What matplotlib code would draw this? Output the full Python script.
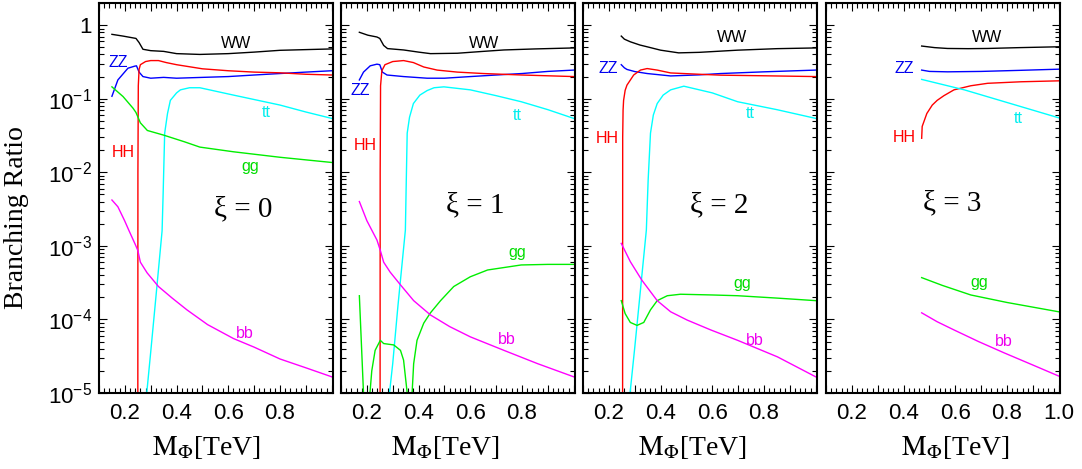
import matplotlib
matplotlib.use("Agg")
import matplotlib.pyplot as plt
from matplotlib.ticker import MultipleLocator, LogLocator, FuncFormatter, FixedLocator, FixedFormatter, NullFormatter

plt.rcParams['font.family'] = ['Liberation Sans', 'DejaVu Sans']
plt.rcParams['mathtext.fontset'] = 'stix'

# ---------------- data ----------------
xi_values = [0, 1, 2, 3]
channels = ['WW', 'ZZ', 'HH', 'tt', 'gg', 'bb']

# xi = 0
ww0_m = [0.15, 0.193, 0.243, 0.255, 0.27, 0.30, 0.35, 0.40, 0.49, 0.60, 0.70, 0.80, 0.90, 1.00]
ww0 = [0.75, 0.71, 0.66, 0.58, 0.47, 0.45, 0.44, 0.41, 0.40, 0.41, 0.43, 0.455, 0.465, 0.475]
zz0_m = [0.15, 0.173, 0.212, 0.238, 0.245, 0.255, 0.27, 0.30, 0.35, 0.40, 0.50, 0.60, 0.70, 0.80, 0.90, 1.00]
zz0 = [0.108, 0.18, 0.26, 0.277, 0.28, 0.23, 0.20, 0.19, 0.195, 0.19, 0.195, 0.20, 0.21, 0.22, 0.23, 0.24]
hh0_m = [0.2500, 0.2505, 0.252, 0.255, 0.26, 0.28, 0.30, 0.33, 0.36, 0.40, 0.50, 0.60, 0.70, 0.80, 0.90, 1.00]
hh0 = [1e-7, 0.01, 0.15, 0.25, 0.29, 0.32, 0.33, 0.33, 0.31, 0.29, 0.255, 0.24, 0.23, 0.225, 0.215, 0.21]
tt0_m = [0.282, 0.30, 0.32, 0.344, 0.348, 0.354, 0.365, 0.376, 0.40, 0.415, 0.45, 0.49, 0.62, 0.80, 0.90, 1.00]
tt0 = [8e-6, 3.6e-5, 2.0e-4, 1.6e-3, 5e-3, 0.034, 0.063, 0.095, 0.12, 0.132, 0.141, 0.141, 0.112, 0.082, 0.066, 0.054]
gg0_m = [0.15, 0.193, 0.232, 0.243, 0.26, 0.287, 0.35, 0.43, 0.49, 0.62, 0.80, 1.00]
gg0 = [0.145, 0.107, 0.074, 0.065, 0.047, 0.037, 0.032, 0.026, 0.022, 0.019, 0.016, 0.0136]
bb0_m = [0.15, 0.173, 0.199, 0.215, 0.24, 0.25, 0.26, 0.286, 0.33, 0.383, 0.44, 0.52, 0.62, 0.70, 0.80, 0.90, 1.00]
bb0 = [4.2e-3, 3.4e-3, 2.2e-3, 1.64e-3, 1.05e-3, 8.7e-4, 6e-4, 4.3e-4, 2.8e-4, 1.95e-4, 1.35e-4, 8.5e-5,
       5.5e-5, 4.2e-5, 2.9e-5, 2.2e-5, 1.66e-5]

# xi = 1
ww1_m = [0.171, 0.204, 0.239, 0.25, 0.265, 0.28, 0.342, 0.40, 0.446, 0.55, 0.65, 0.73, 0.85, 1.00]
ww1 = [0.80, 0.73, 0.69, 0.66, 0.53, 0.48, 0.46, 0.43, 0.41, 0.415, 0.44, 0.46, 0.475, 0.49]
zz1_m = [0.171, 0.187, 0.213, 0.239, 0.25, 0.26, 0.278, 0.342, 0.433, 0.50, 0.60, 0.70, 0.80, 0.90, 1.00]
zz1 = [0.18, 0.23, 0.28, 0.295, 0.29, 0.23, 0.21, 0.20, 0.19, 0.19, 0.20, 0.21, 0.22, 0.235, 0.245]
hh1_m = [0.251, 0.2515, 0.253, 0.258, 0.27, 0.30, 0.342, 0.38, 0.42, 0.472, 0.55, 0.65, 0.80, 1.00]
hh1 = [1e-7, 0.01, 0.15, 0.24, 0.29, 0.32, 0.33, 0.31, 0.27, 0.245, 0.23, 0.22, 0.21, 0.20]
tt1_m = [0.286, 0.30, 0.32, 0.349, 0.352, 0.356, 0.365, 0.38, 0.405, 0.433, 0.46, 0.498, 0.60, 0.70, 0.797, 0.90, 1.00]
tt1 = [8.9e-6, 2.5e-5, 1.5e-4, 1.64e-3, 6.3e-3, 0.034, 0.056, 0.086, 0.112, 0.129, 0.141, 0.145, 0.132, 0.11, 0.091, 0.071, 0.054]
gg1_m = [0.171, 0.187, 0.188, 0.211, 0.212, 0.219, 0.232, 0.252, 0.265, 0.304, 0.330, 0.342, 0.356, 0.357,
         0.374, 0.375, 0.381, 0.394, 0.420, 0.446, 0.485, 0.536, 0.600, 0.667, 0.797, 0.900, 1.000]
gg1 = [2.1e-4, 1e-5, 1e-7, 1e-7, 1e-5, 2.0e-5, 3.8e-5, 5.2e-5, 4.7e-5, 4.5e-5, 3.8e-5, 2.8e-5, 1e-5, 1e-7,
       1e-7, 1e-5, 2.5e-5, 5.2e-5, 8.9e-5, 1.23e-4, 1.8e-4, 2.8e-4, 3.8e-4, 4.7e-4, 5.5e-4, 5.6e-4, 5.6e-4]
bb1_m = [0.171, 0.20, 0.239, 0.252, 0.265, 0.29, 0.33, 0.381, 0.446, 0.52, 0.60, 0.73, 0.861, 1.00]
bb1 = [4.0e-3, 2.2e-3, 1.2e-3, 8.7e-4, 6.0e-4, 4.4e-4, 2.95e-4, 1.8e-4, 1.15e-4, 8.0e-5, 5.8e-5, 3.8e-5, 2.5e-5, 1.66e-5]

# xi = 2
ww2_m = [0.248, 0.26, 0.283, 0.32, 0.348, 0.40, 0.47, 0.55, 0.698, 0.85, 1.00]
ww2 = [0.71, 0.645, 0.594, 0.537, 0.508, 0.457, 0.42, 0.427, 0.457, 0.479, 0.49]
zz2_m = [0.248, 0.26, 0.27, 0.30, 0.348, 0.439, 0.55, 0.633, 0.80, 1.00]
zz2 = [0.29, 0.263, 0.25, 0.234, 0.22, 0.204, 0.211, 0.22, 0.232, 0.245]
hh2_m = [0.253, 0.2535, 0.255, 0.257, 0.263, 0.270, 0.296, 0.322, 0.348, 0.387, 0.439, 0.55, 0.633, 0.80, 1.00]
hh2 = [1e-7, 0.03, 0.07, 0.095, 0.13, 0.153, 0.21, 0.245, 0.257, 0.245, 0.224, 0.215, 0.209, 0.205, 0.20]
tt2_m = [0.282, 0.30, 0.32, 0.345, 0.352, 0.361, 0.372, 0.387, 0.41, 0.439, 0.49, 0.60, 0.698, 0.85, 1.00]
tt2 = [1e-5, 4.1e-5, 2.1e-4, 1.64e-3, 7.9e-3, 0.034, 0.06, 0.086, 0.112, 0.132, 0.148, 0.12, 0.091, 0.071, 0.054]
gg2_m = [0.248, 0.263, 0.283, 0.309, 0.335, 0.361, 0.387, 0.426, 0.477, 0.60, 0.698, 0.85, 1.00]
gg2 = [1.8e-4, 1.2e-4, 9.1e-5, 8.3e-5, 9.1e-5, 1.35e-4, 1.8e-4, 2.1e-4, 2.2e-4, 2.15e-4, 2.1e-4, 1.95e-4, 1.8e-4]
bb2_m = [0.248, 0.283, 0.328, 0.387, 0.439, 0.503, 0.594, 0.698, 0.852, 1.00]
bb2 = [1.08e-3, 6.1e-4, 3.4e-4, 1.8e-4, 1.27e-4, 9.8e-5, 7.2e-5, 5.2e-5, 3.1e-5, 1.66e-5]

# xi = 3
ww3_m = [0.47, 0.52, 0.57, 0.65, 0.725, 0.85, 1.00]
ww3 = [0.52, 0.495, 0.482, 0.479, 0.482, 0.495, 0.508]
zz3_m = [0.47, 0.50, 0.57, 0.70, 0.85, 1.00]
zz3 = [0.245, 0.235, 0.232, 0.235, 0.243, 0.252]
hh3_m = [0.47, 0.472, 0.49, 0.511, 0.53, 0.556, 0.595, 0.66, 0.725, 0.855, 1.00]
hh3 = [0.029, 0.042, 0.063, 0.082, 0.095, 0.11, 0.132, 0.15, 0.162, 0.17, 0.175]
tt3_m = [0.47, 0.635, 1.00]
tt3 = [0.183, 0.132, 0.055]
gg3_m = [0.47, 0.55, 0.66, 0.80, 1.00]
gg3 = [3.7e-4, 2.9e-4, 2.15e-4, 1.7e-4, 1.27e-4]
bb3_m = [0.47, 0.53, 0.595, 0.69, 0.79, 0.90, 1.00]
bb3 = [1.23e-4, 9.3e-5, 7.2e-5, 5.0e-5, 3.5e-5, 2.4e-5, 1.7e-5]

series = [
    {'WW': (ww0_m, ww0), 'ZZ': (zz0_m, zz0), 'HH': (hh0_m, hh0), 'tt': (tt0_m, tt0), 'gg': (gg0_m, gg0), 'bb': (bb0_m, bb0)},
    {'WW': (ww1_m, ww1), 'ZZ': (zz1_m, zz1), 'HH': (hh1_m, hh1), 'tt': (tt1_m, tt1), 'gg': (gg1_m, gg1), 'bb': (bb1_m, bb1)},
    {'WW': (ww2_m, ww2), 'ZZ': (zz2_m, zz2), 'HH': (hh2_m, hh2), 'tt': (tt2_m, tt2), 'gg': (gg2_m, gg2), 'bb': (bb2_m, bb2)},
    {'WW': (ww3_m, ww3), 'ZZ': (zz3_m, zz3), 'HH': (hh3_m, hh3), 'tt': (tt3_m, tt3), 'gg': (gg3_m, gg3), 'bb': (bb3_m, bb3)},
]

y_ticks = [1e-5, 1e-4, 1e-3, 1e-2, 1e-1, 1]
y_ticklabels = [r'$\mathdefault{10^{-5}}$', r'$\mathdefault{10^{-4}}$', r'$\mathdefault{10^{-3}}$',
                r'$\mathdefault{10^{-2}}$', r'$\mathdefault{10^{-1}}$', '1']

# ---------------- style / layout ----------------
colors = {'WW': 'black', 'ZZ': '#0000ff', 'HH': '#ff0000', 'tt': '#00ffff', 'gg': '#00ee00', 'bb': '#ff00ff'}
text_colors = {'WW': 'black', 'ZZ': '#0000ee', 'HH': '#ff0000', 'tt': '#00eeee', 'gg': '#00dd00', 'bb': '#ee00ee'}

label_pos = [
    {'WW': (0.629, 0.57), 'ZZ': (0.174, 0.31), 'HH': (0.193, 0.0188), 'tt': (0.746, 0.064), 'gg': (0.684, 0.0118), 'bb': (0.664, 6.5e-5)},
    {'WW': (0.654, 0.56), 'ZZ': (0.174, 0.131), 'HH': (0.193, 0.0234), 'tt': (0.78, 0.06), 'gg': (0.78, 8.1e-4), 'bb': (0.742, 5.4e-5)},
    {'WW': (0.676, 0.68), 'ZZ': (0.198, 0.258), 'HH': (0.192, 0.029), 'tt': (0.746, 0.063), 'gg': (0.714, 3.1e-4), 'bb': (0.766, 5.1e-5)},
    {'WW': (0.721, 0.68), 'ZZ': (0.401, 0.258), 'HH': (0.401, 0.0298), 'tt': (0.844, 0.054), 'gg': (0.693, 3.15e-4), 'bb': (0.788, 5.0e-5)},
]
xi_pos = [(0.656, 3.1e-3), (0.621, 3.6e-3), (0.626, 3.6e-3), (0.589, 3.8e-3)]
xlabel_x = [0.457, 0.444, 0.466, 0.551]

W, H = 1082, 469
fig = plt.figure(figsize=(W / 100, H / 100), dpi=100)
lefts = [99, 341, 583, 826]
ax_w, ax_top, ax_bot = 234, 3, 393

for i, xi in enumerate(xi_values):
    ax = fig.add_axes([lefts[i] / W, (H - ax_bot) / H, ax_w / W, (ax_bot - ax_top) / H])
    for ch in channels:
        m, br = series[i][ch]
        ax.plot(m, br, color=colors[ch], lw=1.0)
    ax.set_yscale('log')
    ax.set_xlim(0.1, 1.005)
    ax.set_ylim(1e-5, 2.0)

    for ch in channels:
        x, y = label_pos[i][ch]
        ax.text(x, y, ch, color=text_colors[ch], fontsize=11.5, ha='center', va='center')
    x, y = xi_pos[i]
    ax.text(x, y, '\u03be = %d' % xi, family=['Liberation Serif', 'DejaVu Serif'], fontsize=21,
            ha='center', va='center')

    # x ticks
    ax.xaxis.set_major_locator(MultipleLocator(0.1))
    ax.xaxis.set_minor_locator(MultipleLocator(0.02))
    xmax_lab = 1.0 if i == 3 else 0.8
    ax.xaxis.set_major_formatter(FuncFormatter(
        lambda v, p, mx=xmax_lab: ('%.1f' % v) if (round(v * 10) % 2 == 0 and 0.15 < v < mx + 0.05) else ''))
    # y ticks
    ax.yaxis.set_major_locator(FixedLocator(y_ticks))
    ax.yaxis.set_minor_locator(LogLocator(base=10, subs=[2, 3, 4, 5, 6, 7, 8, 9], numticks=20))
    ax.yaxis.set_minor_formatter(NullFormatter())
    if i == 0:
        ax.yaxis.set_major_formatter(FixedFormatter(y_ticklabels))
    else:
        ax.yaxis.set_major_formatter(NullFormatter())

    ax.tick_params(which='both', direction='in', top=True, right=True, width=0.8)
    ax.tick_params(which='major', length=6.0, labelsize=16, pad=7)
    ax.tick_params(which='minor', length=3.3)
    ax.tick_params(axis='y', which='major', pad=5)
    for sp in ax.spines.values():
        sp.set_linewidth(1.5)

    ax.set_xlabel(r'$\mathrm{M}_{\Phi}$[TeV]', family=['Liberation Serif', 'DejaVu Serif'], fontsize=20)
    ax.xaxis.set_label_coords(xlabel_x[i], -0.105)
    if i == 0:
        ax.set_ylabel('Branching Ratio', family=['Liberation Serif', 'DejaVu Serif'], fontsize=20)
        ax.yaxis.set_label_coords(-0.30, 0.45)

fig.savefig('out.png', dpi=100)
